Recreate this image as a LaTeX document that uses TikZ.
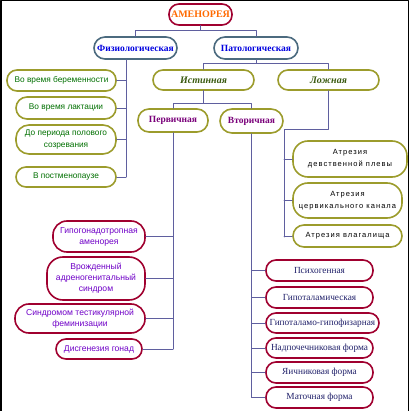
\documentclass[tikz,border=0pt]{standalone}
\usepackage{fontspec}
\setmainfont{Liberation Sans}
\newfontfamily\tnr{Liberation Serif}
\newfontfamily\spaced[LetterSpace=14]{Liberation Sans}

\definecolor{linkc}{HTML}{5F5F9F}
\definecolor{slate}{HTML}{4C6B7F}
\definecolor{olivec}{HTML}{9C9C2C}
\definecolor{wine}{HTML}{A0002F}
\definecolor{amber}{HTML}{FF6A00}
\definecolor{blu}{HTML}{0000E0}
\definecolor{grn}{HTML}{007000}
\definecolor{darkgrn}{HTML}{3A5A10}
\definecolor{purp}{HTML}{7A007A}
\definecolor{viol}{HTML}{7000C8}
\definecolor{navy}{HTML}{20206A}

\begin{document}
\begin{tikzpicture}[
  x=1pt, y=-1pt,
  line join=round, line cap=round,
  link/.style={draw=linkc, line width=0.9pt},
  pill/.style={draw, line width=1.6pt, fill=white, inner sep=0pt, align=center},
  sz/.style n args={3}{minimum width=#1pt, minimum height=#2pt, rounded corners=#3pt},
  top_/.style={pill, draw=wine, text=amber, font=\tnr\bfseries\fontsize{10}{12}\selectfont},
  kind/.style={pill, draw=slate, text=blu, font=\tnr\bfseries\fontsize{9.5}{11}\selectfont},
  phys/.style={pill, draw=olivec, text=grn, font=\fontsize{8.3}{11.5}\selectfont},
  truef/.style={pill, draw=olivec, text=darkgrn, font=\tnr\bfseries\itshape\fontsize{10}{12}\selectfont},
  prim/.style={pill, draw=olivec, text=purp, font=\tnr\bfseries\fontsize{9.5}{11}\selectfont},
  atr/.style={pill, draw=olivec, text=black, font=\spaced\fontsize{7.5}{12}\selectfont},
  redl/.style={pill, draw=wine, text=viol, font=\fontsize{8.6}{11}\selectfont},
  redr/.style={pill, draw=wine, text=navy, font=\tnr\fontsize{9.3}{11}\selectfont},
]
\useasboundingbox (0,0) rectangle (409,411);

% frame
\draw[line width=1.5pt] (0.75,411) -- (0.75,0.75) -- (408.25,0.75) -- (408.25,411);

% top levels
\node[top_, sz={63}{21}{10}] (amen) at (200.5,14.5) {АМЕНОРЕЯ};
\node[kind, sz={83}{22}{11}] (fiz) at (135.5,48) {Физиологическая};
\node[kind, sz={84}{22}{11}] (pat) at (256,48) {Патологическая};

% physiological
\node[phys, sz={109}{21}{10}] (ber) at (61.5,80.5) {Во время беременности};
\node[phys, sz={100}{22}{11}] (lak) at (66,108) {Во время лактации};
\node[phys, sz={100}{29}{13}] (dop) at (66,139.5) {До периода полового\\созревания};
\node[phys, sz={100}{20}{10}] (post) at (66,177) {В постменопаузе};

% pathological
\node[truef, sz={101}{20}{10}] (ist) at (203.5,80) {Истинная};
\node[truef, sz={101}{20}{10}] (loj) at (328.5,80) {Ложная};
\node[prim, sz={70}{23}{11}] (perv) at (173,120.5) {Первичная};
\node[prim, sz={63}{24}{12}] (vtor) at (251.5,121) {Вторичная};

% false
\node[atr, sz={114}{36}{15}] (atr1) at (350,159) {Атрезия\\девственной плевы};
\node[atr, sz={109}{35}{15}] (atr2) at (347.5,200.5) {Атрезия\\цервикального канала};
\node[atr, sz={109}{22}{11}] (atr3) at (347.5,236) {Атрезия влагалища};

% primary
\node[redl, sz={92}{31}{14}] (gip) at (99,236.5) {Гипогонадотропная\\аменорея};
\node[redl, sz={98}{43}{16}] (vro) at (96,278.5) {Врожденный\\адреногенитальный\\синдром};
\node[redl, sz={130}{29}{14}] (sin) at (80,318.5) {Синдромом тестикулярной\\феминизации};
\node[redl, sz={86}{20}{10}] (dis) at (99,349) {Дисгенезия гонад};

% secondary
\node[redr, sz={107}{21}{10}] (psi) at (319.5,270.5) {Психогенная};
\node[redr, sz={107}{21}{10}] (gipt) at (319.5,297.5) {Гипоталамическая};
\node[redr, sz={113}{20}{10}] (gg) at (322.5,323) {Гипоталамо-гипофизарная};
\node[redr, sz={107}{20}{10}] (nad) at (319.5,348) {Надпочечниковая форма};
\node[redr, sz={107}{21}{10}] (yai) at (319.5,372.5) {Яичниковая форма};
\node[redr, sz={107}{21}{10}] (mat) at (319.5,397.5) {Маточная форма};

% connectors
\coordinate (fizbus) at (126,177);
\coordinate (lojbus) at (284,237);

\draw[link] (amen.south) -- ++(0,5) -| (fiz.north);
\draw[link] (amen.south) -- ++(0,5) -| (pat.north);

\draw[link] (fiz.south -| fizbus) -- (fizbus);
\foreach \n in {ber,lak,dop,post} { \draw[link] (\n.east) -- (\n.east -| fizbus); }

\draw[link] (pat.south) -- ++(0,4) -| (ist.north);
\draw[link] (pat.south) -- ++(0,4) -| (loj.north);

\draw[link] (ist.south) -- ++(0,13) -| (perv.north);
\draw[link] (ist.south) -- ++(0,13) -| (vtor.north);

\draw[link] (loj.south) -- ++(0,39) -| (lojbus);
\foreach \n in {atr1,atr2,atr3} { \draw[link] (\n.west) -- (\n.west -| lojbus); }

\draw[link] (perv.south) -- (perv.south |- dis.east);
\foreach \n in {gip,vro,sin,dis} { \draw[link] (\n.east) -- (\n.east -| perv.south); }

\draw[link] (vtor.south) -- (vtor.south |- mat.west);
\foreach \n in {psi,gipt,gg,nad,yai,mat} { \draw[link] (\n.west) -- (\n.west -| vtor.south); }

\end{tikzpicture}
\end{document}
